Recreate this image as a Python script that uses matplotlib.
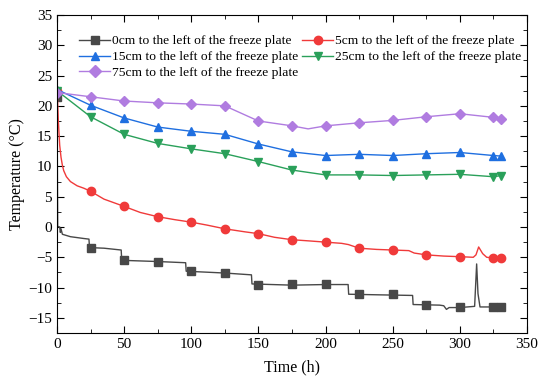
import numpy as np
import matplotlib
matplotlib.use("Agg")
import matplotlib.pyplot as plt
from matplotlib.ticker import MultipleLocator
from matplotlib.lines import Line2D

plt.rcParams['font.family'] = ['Liberation Serif', 'DejaVu Serif']

# marker positions (h) shared by all series
mark_t = [0, 25, 50, 75, 100, 125, 150, 175, 200, 225, 250, 275, 300, 325, 331]

# 0cm series (step-like record)
t0_line = [0, 0.5, 2, 2.5, 3, 4, 10, 20, 23.8, 24.2, 35, 47.8, 48.2, 75, 95.8, 96.2,
           125, 144.8, 145.2, 175, 200, 216.8, 217.2, 240, 264.8, 265.2, 285, 288, 290,
           292, 300, 311, 312.5, 313.5, 315, 318, 325, 331]
v0_line = [21.5, 0.1, 0.0, -0.9, -0.3, -1.2, -1.6, -1.9, -2.0, -3.4, -3.5, -3.8, -5.5, -5.7,
           -5.9, -7.3, -7.6, -7.9, -9.4, -9.6, -9.5, -9.5, -11.1, -11.2, -11.3, -12.8, -12.9,
           -13.0, -13.6, -13.3, -13.3, -13.1, -6.1, -11.0, -13.2, -13.2, -13.2, -13.2]
v0_mark = [21.5, -3.4, -5.5, -5.7, -7.3, -7.6, -9.5, -9.4, -9.4, -11.1, -11.1, -12.8, -13.2, -13.2, -13.2]

# 5cm series
t5_line = [0, 0.5, 1, 2, 3, 4, 5, 7, 10, 15, 20, 25, 35, 50, 62, 75, 88, 100, 112, 125,
           140, 150, 162, 175, 188, 200, 212, 217, 225, 238, 250, 262, 266, 275, 288, 300,
           310, 312, 314, 317, 320, 325, 331]
v5_line = [22.5, 20.5, 17.5, 13.5, 11.5, 10.2, 9.3, 8.3, 7.5, 6.8, 6.4, 5.9, 4.6, 3.4, 2.4,
           1.7, 1.2, 0.8, 0.3, -0.3, -0.8, -1.1, -1.7, -2.1, -2.3, -2.5, -2.7, -2.9, -3.5,
           -3.7, -3.8, -3.9, -4.3, -4.6, -4.8, -4.9, -5.0, -4.6, -3.3, -4.4, -5.0, -5.1, -5.1]
v5_mark = [22.5, 5.9, 3.4, 1.7, 0.8, -0.3, -1.1, -2.1, -2.4, -3.5, -3.8, -4.6, -4.9, -5.1, -5.1]

# 15cm, 25cm, 75cm series
v15_mark = [22.7, 20.1, 18.0, 16.5, 15.8, 15.3, 13.7, 12.4, 11.8, 12.0, 11.8, 12.1, 12.3, 11.8, 11.7]
v25_mark = [22.5, 18.2, 15.3, 13.8, 12.9, 12.1, 10.8, 9.4, 8.6, 8.6, 8.5, 8.6, 8.7, 8.3, 8.5]
v75_mark = [22.2, 21.5, 20.8, 20.5, 20.3, 20.0, 17.5, 16.7, 16.7, 17.2, 17.6, 18.2, 18.7, 18.1, 17.8]
t_mid = [187]
v75_mid = [16.2]

labels = ['0cm to the left of the freeze plate', '5cm to the left of the freeze plate',
          '15cm to the left of the freeze plate', '25cm to the left of the freeze plate',
          '75cm to the left of the freeze plate']
colors = ['#484848', '#f03a3a', '#1f6fe0', '#2aa05a', '#b07ce0']
mk = ['s', 'o', '^', 'v', 'D']

fig = plt.figure(figsize=(5.39, 3.78), dpi=100)
ax = fig.add_axes([57/539, 1 - 333/378, 470/539, 318/378])

ms = 6
ax.plot(t0_line, v0_line, color=colors[0], lw=1)
ax.plot(mark_t, v0_mark, color=colors[0], lw=0, marker=mk[0], ms=ms)
ax.plot(t5_line, v5_line, color=colors[1], lw=1)
ax.plot(mark_t, v5_mark, color=colors[1], lw=0, marker=mk[1], ms=ms)

t75 = mark_t[:8] + t_mid + mark_t[8:]
v75 = v75_mark[:8] + v75_mid + v75_mark[8:]
ax.plot(mark_t, v15_mark, color=colors[2], lw=1)
ax.plot(mark_t, v15_mark, color=colors[2], lw=0, marker=mk[2], ms=ms)
ax.plot(mark_t, v25_mark, color=colors[3], lw=1)
ax.plot(mark_t, v25_mark, color=colors[3], lw=0, marker=mk[3], ms=ms)
ax.plot(t75, v75, color=colors[4], lw=1)
ax.plot(mark_t, v75_mark, color=colors[4], lw=0, marker=mk[4], ms=ms - 0.5)

# legend proxies with line + marker
proxies = [Line2D([], [], color=colors[i], lw=1, marker=mk[i], ms=ms) for i in range(5)]
order = [0, 2, 4, 1, 3]
ax.legend([proxies[i] for i in order], [labels[i] for i in order], ncol=2, loc='upper left',
          bbox_to_anchor=(0.047, 0.937), frameon=False, fontsize=9.7, handlelength=2.3,
          handletextpad=0.15, columnspacing=0.3, labelspacing=0.25, borderaxespad=0,
          borderpad=0)

ax.set_xlim(0, 350)
ax.set_ylim(-17.5, 35)
ax.xaxis.set_major_locator(MultipleLocator(50))
ax.xaxis.set_minor_locator(MultipleLocator(25))
ax.yaxis.set_major_locator(MultipleLocator(5))
ax.yaxis.set_minor_locator(MultipleLocator(2.5))
ax.tick_params(which='both', direction='in', top=True, right=True, labelsize=11)
ax.tick_params(which='major', length=5)
ax.tick_params(which='minor', length=3)
ax.set_xlabel('Time (h)', fontsize=11.5, labelpad=6)
ax.set_ylabel('Temperature (\u00b0C)', fontsize=11.5, labelpad=2)

fig.savefig('out.png', dpi=100)
